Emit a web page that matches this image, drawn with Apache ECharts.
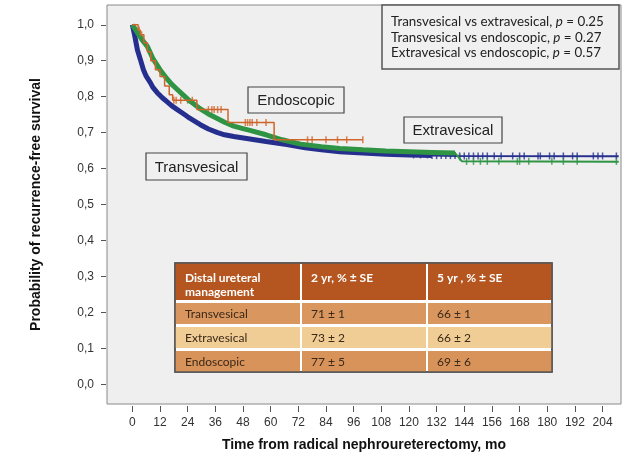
<!DOCTYPE html>
<html>
<head>
<meta charset="utf-8">
<script src="https://cdn.jsdelivr.net/npm/echarts@6/dist/echarts.min.js"></script>
<style>
html, body { margin: 0; padding: 0; background: #fff; }
#main { width: 631px; height: 464px; }
</style>
</head>
<body>
<div id="main"></div>
<script>
// tick labels
var monthTicks = [0, 12, 24, 36, 48, 60, 72, 84, 96, 108, 120, 132, 144, 156, 168, 180, 192, 204];
var survTicks = [0, 0.1, 0.2, 0.3, 0.4, 0.5, 0.6, 0.7, 0.8, 0.9, 1.0];

// Kaplan-Meier curves: [months, survival]
var transvesical = [[0,1],[1,0.97],[2.2,0.93],[3.5,0.903],[4.8,0.875],[6,0.857],[7.8,0.839],[9,0.825],[10.8,0.811],[13,0.797],[15,0.786],[17,0.775],[19.5,0.764],[22,0.753],[24,0.744],[27,0.732],[29.5,0.722],[33,0.71],[37,0.7],[40,0.694],[44,0.689],[51,0.682],[58,0.675],[67,0.667],[75,0.658],[82,0.652],[90,0.647],[100,0.643],[110,0.64],[120,0.638],[130,0.636],[141,0.635],[211,0.634]];
var extravesical = [[0,1],[2,0.98],[4,0.96],[6.5,0.94],[9,0.905],[12,0.875],[15,0.85],[17,0.835],[19.5,0.82],[22,0.805],[24,0.793],[27,0.778],[29.5,0.766],[33,0.752],[36,0.742],[40,0.729],[44,0.718],[48,0.711],[51,0.706],[58,0.694],[65,0.68],[73,0.668],[82,0.661],[90,0.656],[100,0.652],[110,0.649],[120,0.647],[130,0.645],[140,0.643],[141.5,0.632],[143,0.62],[211,0.619]];
var endoscopic = [[0,1],[2.5,0.985],[3.5,0.972],[5,0.95],[6.5,0.925],[8,0.9],[10,0.875],[12,0.856],[14,0.83],[16,0.805],[17.5,0.79],[28,0.764],[41.5,0.728],[61.5,0.68],[100,0.68]];

// censored times (tick marks)
var transCensor = [122,125,128,130,132,134,136,138,140,142,144,146,148,150,152,154,157,160,165,168,170,176,177,181,183,187,191,193,200,202,204,210];
var extraCensor = [142,145,148,151,154,159,167,168,172,182,187,193,210];
var endoCensor = [3,4,18,19,21,24,26,33,34.5,35.5,37,38.5,49,50,51,52,54,58,76,78,84,89,93,100];

var pValues = [['Transvesical vs extravesical', '0.25'], ['Transvesical vs endoscopic', '0.27'], ['Extravesical vs endoscopic', '0.57']];
var tableHeader = ['Distal ureteral\nmanagement', '2 yr, % \u00b1 SE', '5 yr , % \u00b1 SE'];
var tableRows = [['Transvesical', '71 \u00b1 1', '66 \u00b1 1'], ['Extravesical', '73 \u00b1 2', '66 \u00b1 2'], ['Endoscopic', '77 \u00b1 5', '69 \u00b1 6']];

var BLUE = '#262f8e', GREEN = '#2f9444', ORANGE = '#d0652a';

function survAt(curve, t) {
    var s = curve[0][1];
    for (var i = 0; i < curve.length; i++) {
        if (curve[i][0] <= t) s = curve[i][1];
    }
    return s;
}
function marks(curve, times) {
    return times.map(function (t) { return [t, survAt(curve, t)]; });
}

var myChart = echarts.init(document.getElementById('main'));

// text boxes, p-value box and the table
var graphics = [];
graphics.push({ type: 'rect', shape: { x: 382, y: 5, width: 237, height: 64 }, style: { fill: '#f0f0f0', stroke: '#555', lineWidth: 1.5 }, z: 10 });
pValues.forEach(function (p, i) {
    graphics.push({
        type: 'text', x: 391, y: 22 + i * 15.5, z: 11,
        style: {
            text: '{n|' + p[0] + ', }{i|p}{n| = ' + p[1] + '}',
            verticalAlign: 'middle',
            rich: {
                n: { fontFamily: 'Lato', fontSize: 13.4, fill: '#222' },
                i: { fontFamily: 'Lato', fontSize: 13.4, fontStyle: 'italic', fill: '#222' }
            }
        }
    });
});

var labelBoxes = [
    { text: 'Endoscopic', x: 248, y: 87, w: 96, h: 26 },
    { text: 'Transvesical', x: 146, y: 153, w: 101, h: 27 },
    { text: 'Extravesical', x: 404, y: 117, w: 98, h: 26 }
];
labelBoxes.forEach(function (b) {
    graphics.push({ type: 'rect', shape: { x: b.x, y: b.y, width: b.w, height: b.h }, style: { fill: '#f0f0f0', stroke: '#444', lineWidth: 1.2 }, z: 10 });
    graphics.push({ type: 'text', x: b.x + b.w / 2, y: b.y + b.h / 2 + 1, z: 11, style: { text: b.text, align: 'center', verticalAlign: 'middle', fontFamily: 'Liberation Sans', fontSize: 15, fill: '#222' } });
});

var colX = [175, 301, 427, 552];
var rowY = [[263, 300], [303, 324], [327, 348], [351, 372]];
var rowFill = ['#b5551f', '#d9975f', '#efcd95', '#d8935a'];
graphics.push({ type: 'rect', shape: { x: 175, y: 263, width: 377, height: 109 }, style: { fill: '#ffffff', stroke: '#555', lineWidth: 1.5 }, z: 10 });
for (var r = 0; r < 4; r++) {
    for (var c = 0; c < 3; c++) {
        graphics.push({
            type: 'rect', z: 11,
            shape: { x: colX[c] + (c > 0 ? 1 : 0), y: rowY[r][0], width: colX[c + 1] - colX[c] - (c > 0 ? 1 : 0) - (c < 2 ? 1 : 0), height: rowY[r][1] - rowY[r][0] },
            style: { fill: rowFill[r] }
        });
        var txt = r === 0 ? tableHeader[c] : tableRows[r - 1][c];
        graphics.push({
            type: 'text', z: 12,
            x: colX[c] + 10, y: r === 0 ? rowY[r][0] + 8 : (rowY[r][0] + rowY[r][1]) / 2 + 1,
            style: {
                text: txt,
                verticalAlign: r === 0 ? 'top' : 'middle',
                fontFamily: 'Lato', fontSize: 12, lineHeight: 14,
                fontWeight: r === 0 ? 'bold' : 'normal',
                fill: r === 0 ? '#ffffff' : '#3a2818'
            }
        });
    }
}
graphics.push({ type: 'rect', shape: { x: 175, y: 263, width: 377, height: 109 }, style: { fill: 'none', stroke: '#555', lineWidth: 1.5 }, z: 13 });

function lineSeries(data, color, width, step) {
    return { type: 'line', data: data, step: step || false, symbol: 'none', silent: true, lineStyle: { color: color, width: width }, itemStyle: { color: color } };
}
function censorSeries(data, color) {
    return { type: 'scatter', data: data, symbol: 'rect', symbolSize: [1.5, 7], silent: true, itemStyle: { color: color } };
}

var options = {
    animation: false,
    backgroundColor: '#ffffff',
    grid: { left: 107, right: 10, top: 5, bottom: 60, show: true, backgroundColor: '#efefef', borderColor: '#8a8a8a', borderWidth: 1 },
    xAxis: {
        type: 'value', min: -11, max: 212, offset: 2,
        splitLine: { show: false },
        axisLine: { show: false, onZero: false },
        axisTick: { show: true, customValues: monthTicks, length: 6, lineStyle: { color: '#555' } },
        axisLabel: { customValues: monthTicks, margin: 11, fontSize: 12, color: '#333', fontFamily: 'Liberation Sans' },
        name: 'Time from radical nephroureterectomy, mo',
        nameLocation: 'middle', nameGap: 32,
        nameTextStyle: { fontSize: 14, fontWeight: 'bold', color: '#111', fontFamily: 'Liberation Sans' }
    },
    yAxis: {
        type: 'value', min: -0.055, max: 1.055, offset: 1,
        splitLine: { show: false },
        axisLine: { show: false, onZero: false },
        axisTick: { show: true, customValues: survTicks, length: 5, lineStyle: { color: '#555' } },
        axisLabel: {
            customValues: survTicks, margin: 12, fontSize: 12, color: '#333', fontFamily: 'Liberation Sans',
            formatter: function (v) { return v.toFixed(1).replace('.', ','); }
        },
        name: 'Probability of recurrence-free survival',
        nameLocation: 'middle', nameGap: 63,
        nameTextStyle: { fontSize: 14, fontWeight: 'bold', color: '#111', fontFamily: 'Liberation Sans' }
    },
    graphic: graphics,
    series: [
        lineSeries(transvesical.filter(function (p) { return p[0] <= 135; }), BLUE, 5),
        lineSeries(transvesical, BLUE, 2),
        censorSeries(marks(transvesical, transCensor), BLUE),
        lineSeries(extravesical.filter(function (p) { return p[0] <= 140; }), GREEN, 5),
        lineSeries(extravesical, GREEN, 2),
        censorSeries(marks(extravesical, extraCensor), GREEN),
        lineSeries(endoscopic, ORANGE, 1.5, 'end'),
        censorSeries(marks(endoscopic, endoCensor), ORANGE)
    ]
};
myChart.setOption(options, true);
</script>
</body>
</html>
